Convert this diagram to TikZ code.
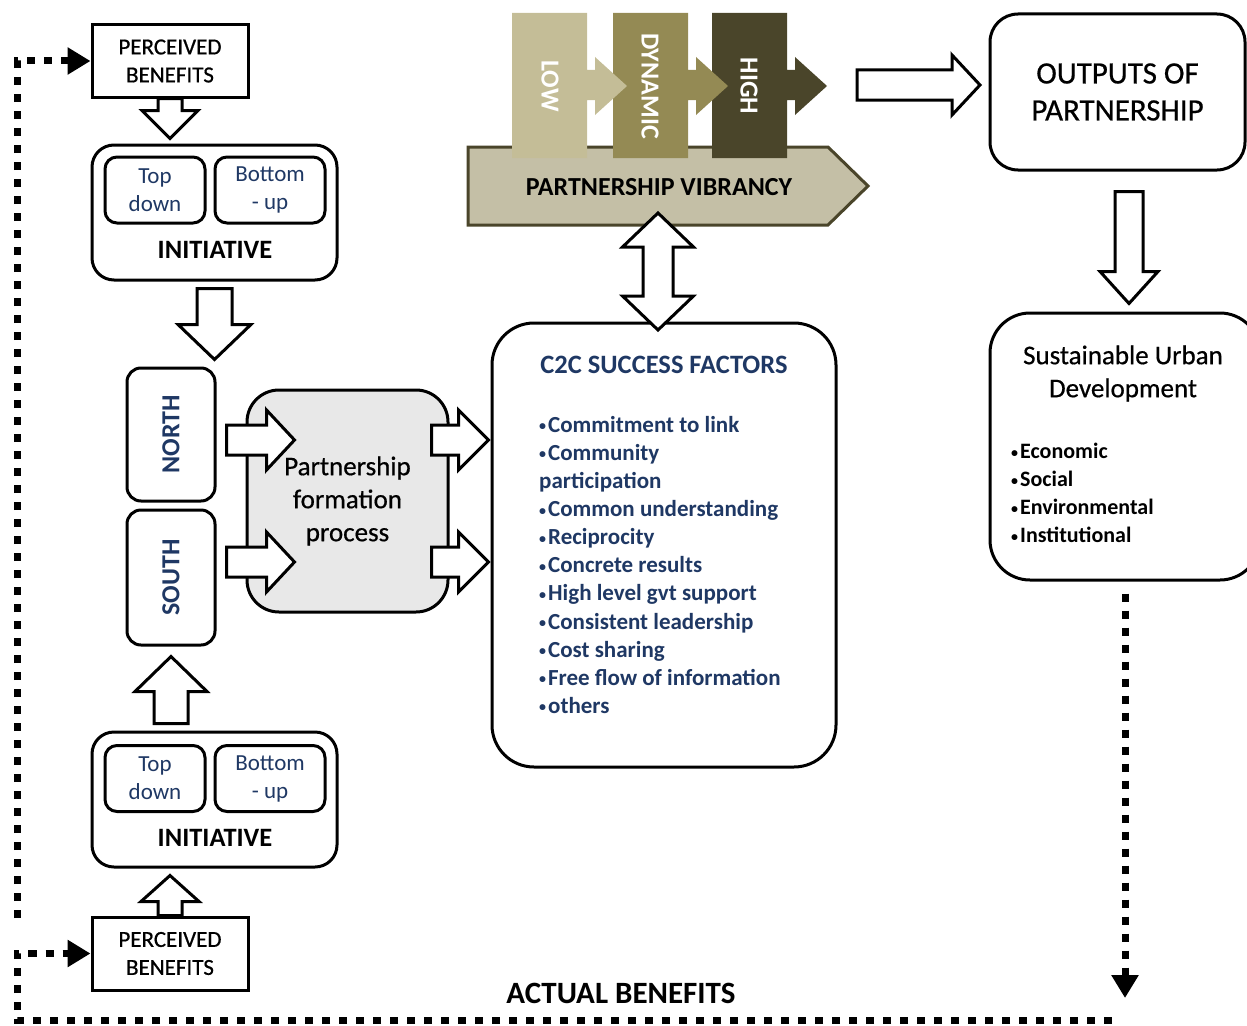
\documentclass[tikz,border=0pt]{standalone}
\usepackage{fontspec}
\setmainfont{Carlito}
\newfontfamily\medfont[FakeBold=0.6]{Carlito}
\usetikzlibrary{arrows.meta,calc}
\definecolor{navy}{HTML}{1F3864}
\definecolor{lowc}{HTML}{C4BD97}
\definecolor{dync}{HTML}{948A54}
\definecolor{highc}{HTML}{4A452A}
\definecolor{vibfill}{HTML}{C4BFA6}
\definecolor{procfill}{HTML}{E8E8E8}
\newcommand{\fsz}[2]{\fontsize{#1}{#2}\selectfont}
% small raised list bullet
\newcommand{\bul}{\raisebox{1.5pt}{\fontsize{14}{14}\selectfont•}\kern2pt}

\tikzset{
  sbox/.style={draw=black, line width=3pt, inner sep=0pt, fill=white},
  rbox/.style={draw=black, line width=3pt, inner sep=0pt, rounded corners=#1, fill=white},
  rbox/.default=20pt,
  barrowline/.style={draw=black, fill=white, line width=3pt, line join=miter},
  dotline/.style={line width=7pt, dash pattern=on 8pt off 9pt,
    -{Triangle[width=26pt,length=23pt]}},
  % block arrow pointing along +x: {length}{shaft width}{head width}{head length}
  pics/blockarrow/.style n args={4}{code={
    \draw[barrowline] (0,-#2/2) -- (#1-#4,-#2/2) -- (#1-#4,-#3/2) -- (#1,0)
      -- (#1-#4,#3/2) -- (#1-#4,#2/2) -- (0,#2/2) -- cycle;
  }},
  % double-headed block arrow along +x
  pics/dblarrow/.style n args={4}{code={
    \draw[barrowline] (0,0) -- (#4,-#3/2) -- (#4,-#2/2) -- (#1-#4,-#2/2)
      -- (#1-#4,-#3/2) -- (#1,0) -- (#1-#4,#3/2) -- (#1-#4,#2/2)
      -- (#4,#2/2) -- (#4,#3/2) -- cycle;
  }},
  % vibrancy stage: bar with an arrow tab on its right side
  pics/stage/.style={code={
    \fill[#1] (0,0) -- (75,0) -- (75,57) -- (83,57) -- (83,44) -- (115,73)
      -- (83,102) -- (83,87) -- (75,87) -- (75,145) -- (0,145) -- cycle;
  }},
  stagetext/.style={rotate=-90, text=white, font=\bfseries\fsz{26}{30}},
}

\begin{document}
\begin{tikzpicture}[x=1pt,y=-1pt]
\useasboundingbox (0,0) rectangle (1247,1025);
\clip (0,0) rectangle (1247,1025);

% ---------- partnership vibrancy ----------
\draw[fill=vibfill, draw=highc, line width=3pt, line join=miter]
  (468,147) -- (828,147) -- (868,186) -- (828,225) -- (468,225) -- cycle;
\node[font=\bfseries\fsz{26}{30}] (vib) at (659,187) {PARTNERSHIP VIBRANCY};
\pic at (712,13) {stage=highc};
\pic at (613,13) {stage=dync};
\pic at (512,13) {stage=lowc};
\node[stagetext] (low) at (550,86) {LOW};
\node[stagetext] (dyn) at (650,86) {DYNAMIC};
\node[stagetext] (high) at (749,86) {HIGH};

% ---------- left column ----------
\node[sbox, minimum width=156, minimum height=72, align=center,
  font=\medfont\fsz{23}{28}] (pbtop) at (170,61) {PERCEIVED\\BENEFITS};
\node[rbox=22pt, minimum width=245, minimum height=135] (init1) at (214.5,212.5) {};
\node[rbox=12pt, minimum width=100, minimum height=66, align=center,
  text=navy, font=\fsz{23}{28}] (td1) at (155,190) {Top\\down};
\node[rbox=12pt, minimum width=110, minimum height=66, align=center,
  text=navy, font=\fsz{23}{28}] (bu1) at (270,190) {Bottom\\- up};
\node[font=\bfseries\fsz{26.5}{30}] (ini1) at (215,250) {INITIATIVE};

\node[rbox=14pt, minimum width=88, minimum height=133] (north) at (171,434.5) {};
\node[rotate=90, text=navy, font=\bfseries\fsz{26}{30}] (northlab) at (north) {NORTH};
\node[rbox=14pt, minimum width=88, minimum height=135] (south) at (171,577.5) {};
\node[rotate=90, text=navy, font=\bfseries\fsz{26}{30}] (southlab) at (south) {SOUTH};

\node[rbox=22pt, minimum width=245, minimum height=135] (init2) at (214.5,799.5) {};
\node[rbox=12pt, minimum width=100, minimum height=66, align=center,
  text=navy, font=\fsz{23}{28}] (td2) at (155,778.5) {Top\\down};
\node[rbox=12pt, minimum width=110, minimum height=66, align=center,
  text=navy, font=\fsz{23}{28}] (bu2) at (270,778.5) {Bottom\\- up};
\node[font=\bfseries\fsz{26.5}{30}] (ini2) at (215,838) {INITIATIVE};
\node[sbox, minimum width=156, minimum height=73, align=center,
  font=\medfont\fsz{23}{28}] (pbbot) at (170,953.5) {PERCEIVED\\BENEFITS};

% ---------- formation process ----------
\node[rbox=32pt, fill=procfill, minimum width=201, minimum height=222,
  align=center, font=\medfont\fsz{27}{33}] (pfp) at (347.5,501) {Partnership\\formation\\process};

% ---------- success factors ----------
\node[rbox=42pt, minimum width=344, minimum height=444] (c2c) at (664,545) {};
\node[text=navy, font=\bfseries\fsz{26.5}{30}] (c2ctitle) at (664,365) {C2C SUCCESS FACTORS};
\node[anchor=north west, align=left, inner sep=0pt, text=navy,
  font=\bfseries\fsz{23}{28.1}] (c2clist) at (539,416)
  {\bul Commitment to link\\\bul Community\\participation\\\bul Common understanding\\%
   \bul Reciprocity\\\bul Concrete results\\\bul High level gvt support\\%
   \bul Consistent leadership\\\bul Cost sharing\\\bul Free flow of information\\\bul others};

% ---------- outputs ----------
\node[rbox=28pt, minimum width=255, minimum height=156, align=center,
  font=\medfont\fsz{31}{37}] (out) at (1117.5,92) {OUTPUTS OF\\PARTNERSHIP};
\node[rbox=40pt, minimum width=270, minimum height=267] (sud) at (1125,446.5) {};
\node[align=center, font=\medfont\fsz{27}{33}] (sudtitle) at (1123,373.5)
  {Sustainable Urban\\Development};
\node[anchor=north west, align=left, inner sep=0pt, font=\bfseries\fsz{22}{28}]
  (sudlist) at (1011,443) {\bul Economic\\\bul Social\\\bul Environmental\\\bul Institutional};

% ---------- block arrows ----------
\pic[rotate=-90] at (pbtop.south) {blockarrow={40}{24}{56}{28}};
\pic[rotate=-90] at ($(init1.south)+(0,7)$) {blockarrow={71}{35}{73}{35}};
\pic[rotate=90] at ($(south.south)+(0,77)$) {blockarrow={67}{34}{72}{35}};
\pic[rotate=90] at (pbbot.north) {blockarrow={40}{24}{58}{26}};
\pic at ($(north.east)+(10,5.5)$) {blockarrow={68}{30}{60}{28}};
\pic at ($(south.east)+(10,-15.5)$) {blockarrow={68}{30}{60}{28}};
\pic at ($(pfp.east)+(-18,-61)$) {blockarrow={57}{30}{60}{30}};
\pic at ($(pfp.east)+(-18,61)$) {blockarrow={57}{30}{60}{30}};
\pic at (857,85) {blockarrow={123}{30}{60}{28}};
\pic[rotate=-90] at ($(out.south)+(11.5,20)$) {blockarrow={112}{28}{58}{32}};
\pic[rotate=-90] at (658,213) {dblarrow={117}{30}{71}{34}};

% ---------- feedback loop ----------
\coordinate (fbtop) at (17,918);
\coordinate (fbtip) at (1125,998);
\coordinate (fbend) at (1112,1020);
\coordinate (fbcorner) at (17,1020);
\draw[dotline] (fbtop) |- (pbtop.west);
\draw[dotline] ($(sud.south)+(0,12)$) -- (fbtip);
\draw[dotline] (fbend) -- (fbcorner) |- (pbbot.west);
\node[font=\bfseries\fsz{31}{34}] (actual) at (621,993) {ACTUAL BENEFITS};
\end{tikzpicture}
\end{document}
